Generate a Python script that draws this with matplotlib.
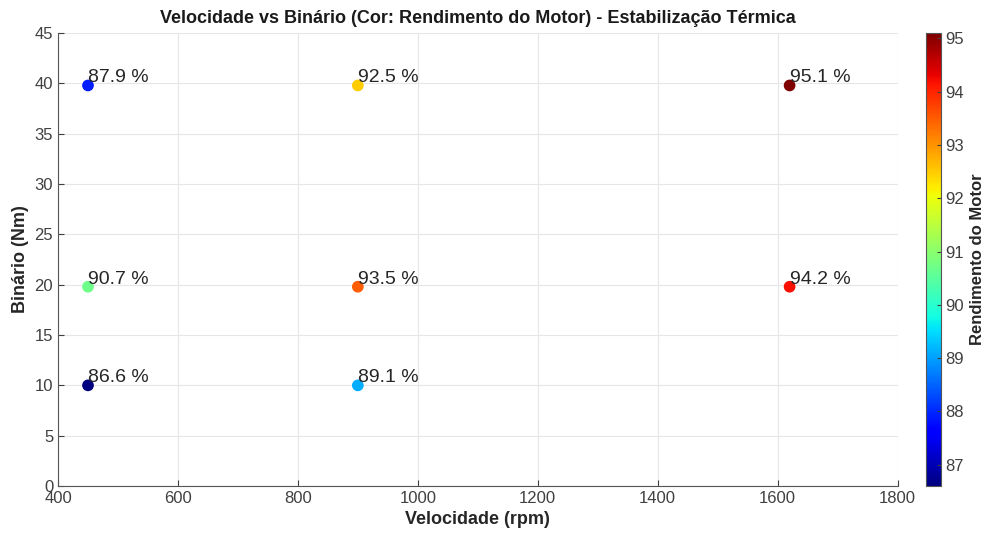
import matplotlib
matplotlib.use("Agg")
import matplotlib.pyplot as plt
import numpy as np

plt.rcParams['font.family'] = ['Liberation Sans', 'DejaVu Sans']

velocidade = [450, 450, 450, 900, 900, 900, 1620, 1620]
binario = [39.8, 19.8, 10.0, 39.8, 19.8, 10.0, 39.8, 19.8]
rendimento = [87.9, 90.7, 86.6, 92.5, 93.5, 89.1, 95.1, 94.2]

xticks = [400, 600, 800, 1000, 1200, 1400, 1600, 1800]
yticks = [0, 5, 10, 15, 20, 25, 30, 35, 40, 45]
cticks = [87, 88, 89, 90, 91, 92, 93, 94, 95]

fig = plt.figure(figsize=(9.9, 5.43), dpi=100)
ax = fig.add_axes([0.0586, 0.105, 0.848, 0.834])
cax = fig.add_axes([0.935, 0.105, 0.0152, 0.834])

tc = '#404040'
sc = ax.scatter(velocidade, binario, c=rendimento, cmap='jet', s=55,
                vmin=min(rendimento), vmax=max(rendimento), zorder=3)
for x, y, r in zip(velocidade, binario, rendimento):
    ax.text(x, y - 0.1, f"{r:.1f} %", fontsize=14, color='#262626',
            ha='left', va='bottom', zorder=4)

ax.set_xlim(400, 1800)
ax.set_ylim(0, 45)
ax.set_xticks(xticks)
ax.set_yticks(yticks)
ax.grid(True, color='#e6e6e6', linewidth=0.8)
ax.set_axisbelow(True)
for s in ['top', 'right']:
    ax.spines[s].set_visible(False)
for s in ['left', 'bottom']:
    ax.spines[s].set_color('#555555')
ax.tick_params(direction='in', colors=tc, labelsize=12, length=4)
ax.set_xlabel('Velocidade (rpm)', fontsize=13, fontweight='bold', color='#262626', labelpad=4)
ax.set_ylabel('Binário (Nm)', fontsize=13, fontweight='bold', color='#262626', labelpad=4)
ax.set_title('Velocidade vs Binário (Cor: Rendimento do Motor) - Estabilização Térmica',
             fontsize=13, fontweight='bold', color='#1a1a1a', pad=7)

cb = fig.colorbar(sc, cax=cax)
cb.set_ticks(cticks)
cb.ax.tick_params(direction='in', colors=tc, labelsize=12, length=3)
cb.outline.set_edgecolor('#555555')
cb.set_label('Rendimento do Motor', fontsize=12, fontweight='bold', color='#262626', labelpad=4)

fig.savefig('out.png', dpi=100)
